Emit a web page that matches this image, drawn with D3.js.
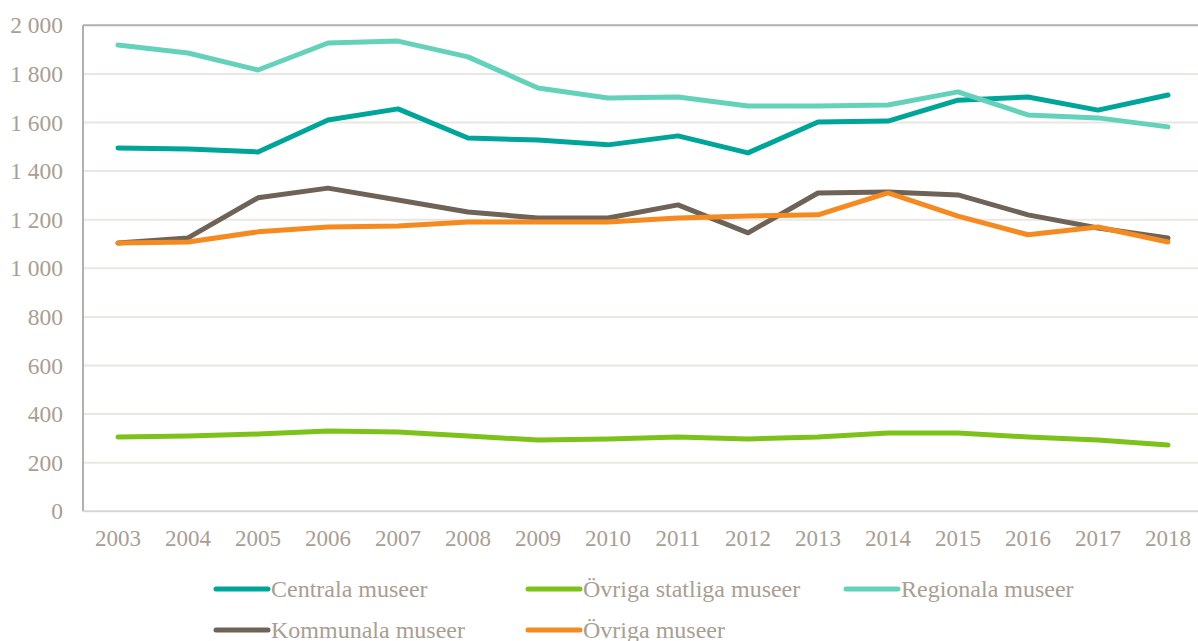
<!DOCTYPE html>
<html><head><meta charset="utf-8">
<script src="https://cdn.jsdelivr.net/npm/d3@7"></script>
<style>body{margin:0;background:#fff}svg{display:block}</style>
</head><body><svg id="c" width="1198" height="641"></svg>
<script>
const years = ["2003","2004","2005","2006","2007","2008","2009","2010","2011","2012","2013","2014","2015","2016","2017","2018"];
const centrala = [1495,1491,1479,1610,1656,1536,1528,1508,1545,1475,1602,1606,1692,1705,1651,1713];
const ovrigaStatliga = [306,310,318,330,326,310,293,298,306,298,306,322,322,306,293,273];
const regionala = [1919,1886,1816,1927,1935,1870,1742,1701,1705,1668,1668,1672,1726,1631,1619,1582];
const kommunala = [1104,1125,1290,1330,1281,1232,1207,1207,1261,1146,1310,1314,1302,1220,1166,1125];
const ovriga = [1104,1108,1150,1170,1174,1191,1191,1191,1207,1215,1220,1310,1215,1138,1170,1108];
const yTicks = [0,200,400,600,800,1000,1200,1400,1600,1800,2000];
const seriesNames = ["Centrala museer","Övriga statliga museer","Regionala museer","Kommunala museer","Övriga museer"];
const seriesColors = ["#00A599","#7DC21A","#64D2BA","#6E6356","#F58A20"];
const seriesData = [centrala, ovrigaStatliga, regionala, kommunala, ovriga];

(function(){
const svg = d3.select("#c");
const pL = 83, pR = 1203, pT = 25.3, pB = 511.3;
const x = d3.scaleBand().domain(years).range([pL, pR]);
const y = d3.scaleLinear().domain([0,2000]).range([pB, pT]);
const textColor = "#A99E92";
const font = "'Liberation Serif','Times New Roman',serif";

svg.append("g").selectAll("line").data(yTicks.filter(d=>d>0 && d<2000)).join("line")
  .attr("x1", pL).attr("x2", 1198).attr("y1", d=>y(d)).attr("y2", d=>y(d))
  .attr("stroke", "#EAE6E2").attr("stroke-width", 2);
svg.append("line").attr("x1", pL).attr("x2", 1198).attr("y1", y(2000)).attr("y2", y(2000))
  .attr("stroke", "#B5ADB0").attr("stroke-width", 2);
svg.append("line").attr("x1", pL).attr("x2", pL).attr("y1", y(2000)).attr("y2", pB)
  .attr("stroke", "#B5ADB0").attr("stroke-width", 2);
svg.append("line").attr("x1", pL).attr("x2", 1198).attr("y1", pB).attr("y2", pB)
  .attr("stroke", "#DAD5D3").attr("stroke-width", 2);

const yAxis = d3.axisLeft(y).tickValues(yTicks).tickSize(0).tickPadding(20)
  .tickFormat(d => d3.format(",")(d).replace(/,/g, "\u00a0"));
const gy = svg.append("g").attr("transform", `translate(${pL},0)`).call(yAxis);
gy.select(".domain").remove();
gy.selectAll("text").attr("fill", textColor).style("font-family", font).style("font-size", "23.5px");

const xAxis = d3.axisBottom(x).tickSize(0).tickPadding(18);
const gx = svg.append("g").attr("transform", `translate(0,${pB})`).call(xAxis);
gx.select(".domain").remove();
gx.selectAll("text").attr("fill", textColor).style("font-family", font).style("font-size", "23px");

const line = d3.line().x((d,i)=>x(years[i]) + x.bandwidth()/2).y(d=>y(d));
[1, 0, 2, 3, 4].forEach(i => {
  svg.append("path").datum(seriesData[i]).attr("d", line)
    .attr("fill", "none").attr("stroke", seriesColors[i]).attr("stroke-width", 5)
    .attr("stroke-linejoin", "round").attr("stroke-linecap", "round");
});

const legendPos = [[216,589],[528,589],[846,589],[216,630],[528,630]];
seriesNames.forEach((n,i) => {
  const [lx, ly] = legendPos[i];
  const g = svg.append("g");
  g.append("line").attr("x1", lx).attr("x2", lx+52).attr("y1", ly).attr("y2", ly)
    .attr("stroke", seriesColors[i]).attr("stroke-width", 5).attr("stroke-linecap", "round");
  g.append("text").attr("x", lx+55).attr("y", ly+8).text(n)
    .attr("fill", textColor).style("font-family", font).style("font-size", "24px");
});
})();
</script></body></html>
